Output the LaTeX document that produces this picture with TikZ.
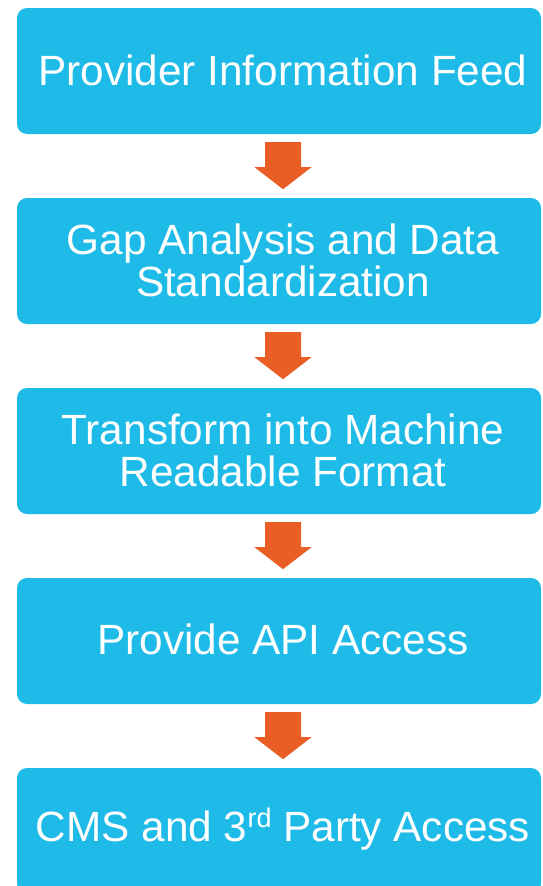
\documentclass[tikz,border=0pt]{standalone}
\usepackage{fontspec}
\setmainfont{Liberation Sans}
\definecolor{stepblue}{RGB}{30,187,232}
\definecolor{flowarrow}{RGB}{233,94,36}
\begin{document}
\begin{tikzpicture}[x=1pt,y=-1pt,
  stepbox/.style={fill=stepblue, rounded corners=10pt, minimum width=524pt,
    minimum height=126pt, inner sep=0pt, draw=none},
  steptext/.style={text=white, align=center, inner sep=0pt,
    font=\fontsize{42.3}{42}\selectfont},
  downarrow/.style={fill=flowarrow}]
\useasboundingbox (0,0) rectangle (542,886);

% process steps
\node[stepbox] (b1) at (279,71) {};
\node[stepbox] (b2) at (279,261) {};
\node[stepbox] (b3) at (279,451) {};
\node[stepbox] (b4) at (279,641) {};
\node[stepbox] (b5) at (279,831) {};

\node[steptext] (t1) at (283,70) {Provider Information Feed};
\node[steptext] (t2) at (283,260) {Gap Analysis and Data\\Standardization};
\node[steptext] (t3) at (283,450) {Transform into Machine\\Readable Format};
\node[steptext] (t4) at (283,639) {Provide API Access};
\node[steptext] (t5) at (283,829) {CMS and 3\raisebox{14pt}{\fontsize{27}{27}\selectfont rd} Party Access};

% block arrows between consecutive steps
\foreach \a/\b in {b1/b2,b2/b3,b3/b4,b4/b5}{
  \coordinate (s) at ([xshift=4pt,yshift=-8pt]\a.south);
  \fill[downarrow] (s) ++(-18,0) -- ++(36,0) -- ++(0,25) -- ++(10.5,0)
    -- ++(-28.5,22) -- ++(-28.5,-22) -- ++(10.5,0) -- cycle;
}
\end{tikzpicture}
\end{document}
